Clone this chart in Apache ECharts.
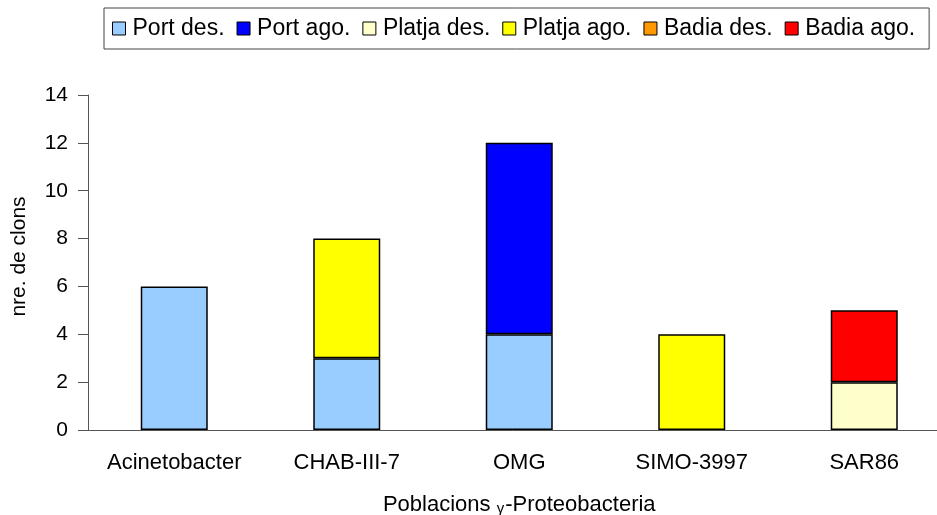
<!DOCTYPE html>
<html>
<head>
<meta charset="utf-8">
<script src="https://cdn.jsdelivr.net/npm/echarts@6/dist/echarts.min.js"></script>
<style>
  html, body { margin: 0; padding: 0; background: #fff; }
  #chart { width: 937px; height: 515px; }
</style>
</head>
<body>
<div id="chart"></div>
<script>
// Clone counts per γ-Proteobacteria population, by site and month
const categories = ['Acinetobacter', 'CHAB-III-7', 'OMG', 'SIMO-3997', 'SAR86'];
const seriesNames = ['Port des.', 'Port ago.', 'Platja des.', 'Platja ago.', 'Badia des.', 'Badia ago.'];
const portDes   = [6, 3, 4, null, null];
const portAgo   = [null, null, 8, null, null];
const platjaDes = [null, null, null, null, 2];
const platjaAgo = [null, 5, null, 4, null];
const badiaDes  = [null, null, null, null, null];
const badiaAgo  = [null, null, null, null, 3];
const yTicks = { min: 0, max: 14, interval: 2 };

const seriesData = [portDes, portAgo, platjaDes, platjaAgo, badiaDes, badiaAgo];
const colors = ['#99CCFF', '#0000FF', '#FFFFCC', '#FFFF00', '#FF9900', '#FF0000'];
const font = '"Liberation Sans", Arial, sans-serif';

const chart = echarts.init(document.getElementById('chart'));
chart.setOption({
  animation: false,
  backgroundColor: '#ffffff',
  textStyle: { fontFamily: font, color: '#000' },
  legend: {
    data: seriesNames,
    left: 104,
    top: 8,
    padding: [9, 14, 9, 8],
    borderColor: '#444',
    borderWidth: 1,
    itemWidth: 13,
    itemHeight: 13,
    itemGap: 12,
    icon: 'rect',
    itemStyle: { borderColor: '#000', borderWidth: 1 },
    textStyle: { fontFamily: font, fontSize: 23, color: '#000', padding: [0, 0, 0, 2] }
  },
  // the plot area runs past the right edge of the canvas
  grid: { left: 88, top: 95, width: 862.5, height: 335, outerBoundsMode: 'none', containLabel: false },
  xAxis: {
    type: 'category',
    data: categories,
    name: '{a|Poblacions }{g|γ}{a|-Proteobacteria}',
    nameLocation: 'middle',
    nameGap: 64,
    nameTextStyle: {
      rich: {
        a: { fontFamily: font, fontSize: 22, color: '#000' },
        g: { fontFamily: font, fontSize: 15, color: '#000', verticalAlign: 'bottom', padding: [0, 1, 0, 0] }
      }
    },
    axisLine: { lineStyle: { color: '#555', width: 1 } },
    axisTick: { length: 8, lineStyle: { color: '#555' } },
    axisLabel: { interval: 0, hideOverlap: false, margin: 22, fontSize: 22, color: '#000', fontFamily: font }
  },
  yAxis: {
    type: 'value',
    min: yTicks.min,
    max: yTicks.max,
    interval: yTicks.interval,
    name: 'nre. de clons',
    nameLocation: 'middle',
    nameGap: 58,
    nameTextStyle: { fontSize: 21, color: '#000', fontFamily: font, padding: [0, 0, 0, 12] },
    axisLine: { show: true, lineStyle: { color: '#555', width: 1 } },
    axisTick: { show: true, length: 10, lineStyle: { color: '#555' } },
    axisLabel: { margin: 20, fontSize: 21, color: '#000', fontFamily: font },
    splitLine: { show: false }
  },
  series: seriesNames.map((name, i) => ({
    name: name,
    type: 'bar',
    stack: 'clons',
    barWidth: 67,
    data: seriesData[i],
    itemStyle: { color: colors[i], borderColor: '#000', borderWidth: 1.5 }
  }))
});
</script>
</body>
</html>
